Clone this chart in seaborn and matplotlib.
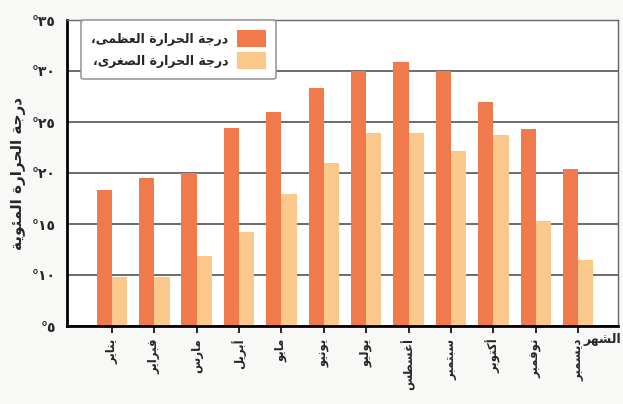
import matplotlib
matplotlib.use("Agg")
import matplotlib.pyplot as plt
import pandas as pd
import seaborn as sns

MONTHS = ["يناير", "فبراير", "مارس", "أبريل", "مايو", "يونيو",
          "يوليو", "أغسطس", "سبتمبر", "أكتوبر", "نوفمبر", "ديسمبر"]
T_MAX = [18.3, 19.5, 20.0, 24.4, 26.0, 28.3, 30.0, 30.9, 30.0, 27.0, 24.3, 20.4]
T_MIN = [9.8, 9.8, 11.9, 14.2, 17.9, 21.0, 23.9, 23.9, 22.2, 23.7, 15.3, 11.5]
SERIES = ["درجة الحرارة العظمى،", "درجة الحرارة الصغرى،"]
Y_TICKS = [5, 10, 15, 20, 25, 30, 35]
Y_LABEL = "درجة الحرارة المئوية"
X_LABEL = "الشهر"
COLORS = ["#f07a4c", "#fac88a"]

# matplotlib has no Arabic shaping: map letters to presentation forms, then reverse.
_DUAL = {"ب": 0xFE8F, "ت": 0xFE95, "ث": 0xFE99, "ج": 0xFE9D, "ح": 0xFEA1,
         "خ": 0xFEA5, "س": 0xFEB1, "ش": 0xFEB5, "ص": 0xFEB9, "ض": 0xFEBD,
         "ط": 0xFEC1, "ظ": 0xFEC5, "ع": 0xFEC9, "غ": 0xFECD, "ف": 0xFED1,
         "ق": 0xFED5, "ك": 0xFED9, "ل": 0xFEDD, "م": 0xFEE1, "ن": 0xFEE5,
         "ه": 0xFEE9, "ي": 0xFEF1, "ئ": 0xFE89}
_RIGHT = {"ا": 0xFE8D, "أ": 0xFE83, "آ": 0xFE81, "إ": 0xFE87, "د": 0xFEA9,
          "ذ": 0xFEAB, "ر": 0xFEAD, "ز": 0xFEAF, "و": 0xFEED, "ة": 0xFE93,
          "ى": 0xFEEF}


def ar(text):
    out = []
    for i, ch in enumerate(text):
        prev = text[i - 1] if i else ""
        nxt = text[i + 1] if i + 1 < len(text) else ""
        j_prev = prev in _DUAL and (ch in _DUAL or ch in _RIGHT)
        j_next = ch in _DUAL and (nxt in _DUAL or nxt in _RIGHT)
        if ch in _DUAL:
            form = {(0, 0): 0, (1, 0): 1, (0, 1): 2, (1, 1): 3}[(int(j_prev), int(j_next))]
            out.append(chr(_DUAL[ch] + form))
        elif ch in _RIGHT:
            out.append(chr(_RIGHT[ch] + int(j_prev)))
        else:
            out.append(ch)
    return "".join(reversed(out))


def ar_num(v):
    return "°" + str(v).translate(str.maketrans("0123456789", "٠١٢٣٤٥٦٧٨٩"))


sns.set_theme(style="white")
plt.rcParams["font.family"] = ["DejaVu Sans"]

df = pd.DataFrame({
    "month": MONTHS * 2,
    "temp": T_MAX + T_MIN,
    "series": [ar(SERIES[0])] * 12 + [ar(SERIES[1])] * 12,
})

fig = plt.figure(figsize=(6.23, 4.04), dpi=100, facecolor="#f8f8f6")
ax = fig.add_axes([67 / 623, 1 - 326 / 404, 551 / 623, 306 / 404])
ax.set_facecolor("white")

sns.barplot(data=df, x="month", y="temp", hue="series", order=MONTHS,
            hue_order=[ar(s) for s in SERIES], palette=COLORS, width=0.72,
            saturation=1, ax=ax, linewidth=0)

ax.set_ylim(5, 35)
ax.set_xlim(-1.06, 11.94)
ax.set_yticks(Y_TICKS)
ax.set_yticklabels([ar_num(v) for v in Y_TICKS], fontsize=10, fontweight="bold")
ax.set_xticks(range(len(MONTHS)))
ax.set_xticklabels([ar(m) for m in MONTHS], rotation=90, fontsize=8.5,
                   fontweight="bold")
ax.tick_params(axis="x", length=5, width=1.2, color="black", pad=4, bottom=True)
ax.tick_params(axis="y", length=0, pad=8)
ax.yaxis.grid(True, color="#444444", linewidth=1.1)
ax.set_axisbelow(True)
ax.set_xlabel("")
ax.set_ylabel(ar(Y_LABEL), fontsize=11, fontweight="bold", labelpad=4)

for side in ["left", "bottom"]:
    ax.spines[side].set_color("black")
    ax.spines[side].set_linewidth(2)
for side in ["top", "right"]:
    ax.spines[side].set_color("#666666")
    ax.spines[side].set_linewidth(1)

fig.text(621 / 623, 1 - 340 / 404, ar(X_LABEL), fontsize=9, fontweight="bold",
         ha="right", va="center")

handles, labels = ax.get_legend_handles_labels()
leg = ax.legend(handles, labels, loc="upper left",
                bbox_to_anchor=(75 / 623, 1 - 14 / 404),
                bbox_transform=fig.transFigure, markerfirst=False,
                fancybox=True, shadow=False, frameon=True, handlelength=2.3,
                handleheight=1.7, handletextpad=0.7, labelspacing=0.4,
                borderpad=0.8, prop={"weight": "bold", "size": 9})
leg.get_frame().set_edgecolor("#999999")
leg.get_frame().set_linewidth(1.2)
leg.get_frame().set_facecolor("white")
leg.get_frame().set_alpha(1)

fig.savefig("out.png", dpi=100, facecolor=fig.get_facecolor())
